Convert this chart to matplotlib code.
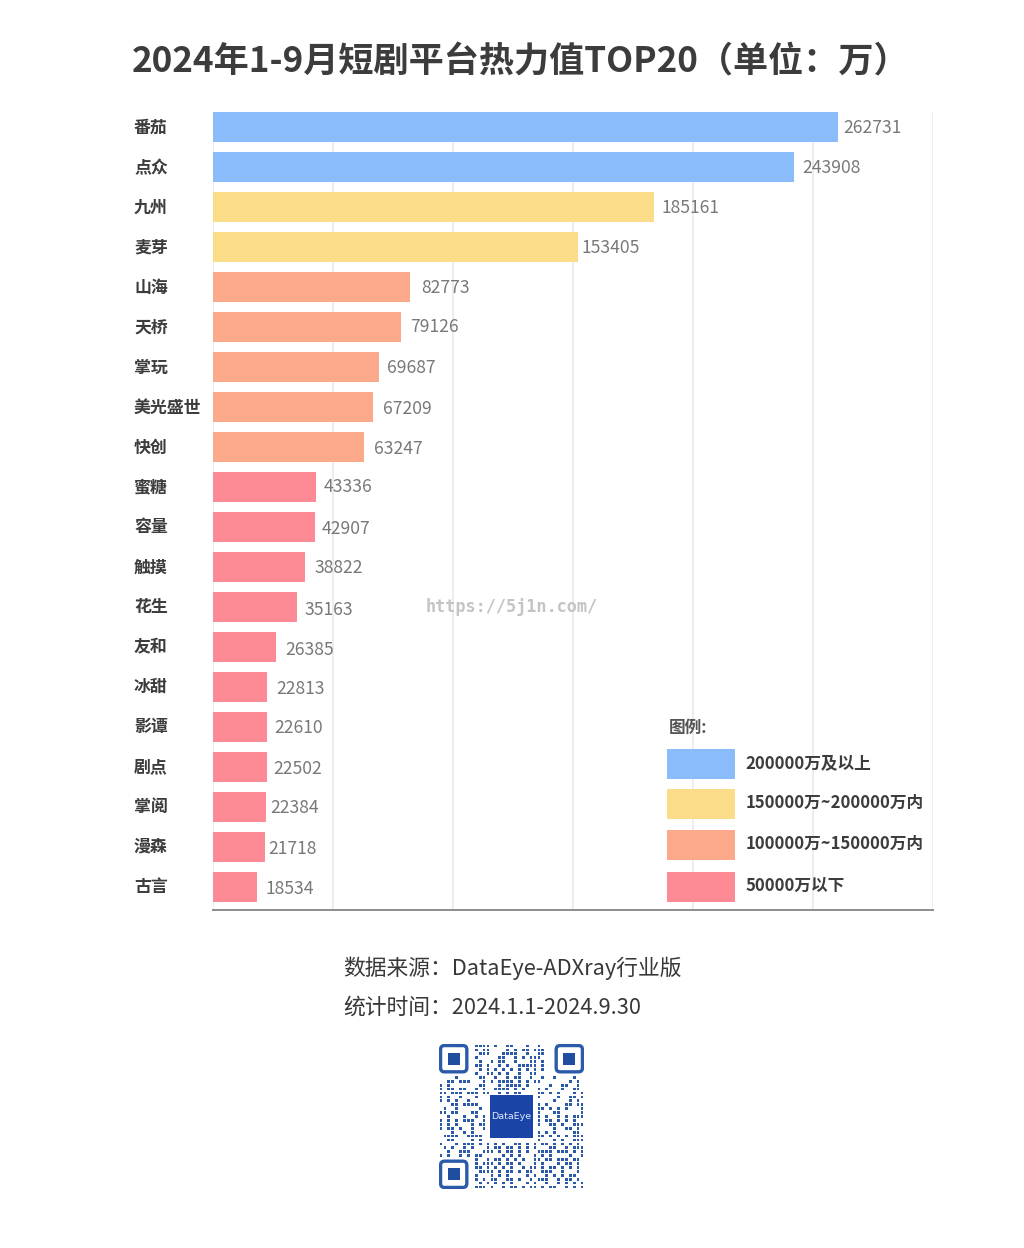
#!/usr/bin/env python3
# -*- coding: utf-8 -*-
"""2024年1-9月短剧平台热力值TOP20"""

import numpy as np
import matplotlib
matplotlib.use('Agg')
import matplotlib.pyplot as plt
from matplotlib.patches import Rectangle, FancyBboxPatch

plt.rcParams['font.family'] = ['Noto Sans CJK SC', 'DejaVu Sans']

platforms = ['番茄', '点众', '九州', '麦芽', '山海', '天桥', '掌玩', '美光盛世', '快创', '蜜糖',
             '容量', '触摸', '花生', '友和', '冰甜', '影谭', '剧点', '掌阅', '漫森', '古言']
heat_values = [262731, 243908, 185161, 153405, 82773, 79126, 69687, 67209, 63247, 43336,
               42907, 38822, 35163, 26385, 22813, 22610, 22502, 22384, 21718, 18534]
tiers = [0, 0, 1, 1, 2, 2, 2, 2, 2, 3, 3, 3, 3, 3, 3, 3, 3, 3, 3, 3]
tier_colors = ['#8abcfb', '#fbdc88', '#fca88a', '#fd8a94']
tier_labels = ['200000万及以上', '150000万~200000万内', '100000万~150000万内', '50000万以下']

title_text = '2024年1-9月短剧平台热力值TOP20（单位：万）'
legend_title = '图例:'
source_lines = ['数据来源：DataEye-ADXray行业版', '统计时间：2024.1.1-2024.9.30']
watermark = 'https://5j1n.com/'

# 数值标签相对柱端的偏移（像素）
label_dx = [5, 9, 8, 3, 11, 9, 8, 10, 10, 7, 6, 9, 8, 10, 9, 7, 7, 4, 4, 8]
label_dy = [1, 1, 1, 1, 1, 0, 1, 2, 2, 0, 2, 1, 3, 3, 2, 1, 2, 1, 2, 2]

# 二维码图案（肉眼估读）
qr_rows = [
    '.........1111.1..11...1..1...',
    '.........1.11....1.1.11.111..',
    '..........111...1111..1..11..',
    '.........1.....11..1.1.111...',
    '..........1..1.11..1...11.1..',
    '.........11.1..1.1..11111.1..',
    '..........1.1.1.1.1.1.1.1.1..',
    '.........1..11.1.1..1..11....',
    '....1.....11..1..1.11..1..1..1....1..',
    '..11.111...1.1.1111.1.1.11.......1.1.',
    '1.1.......11...1.1111.1.....1..11..1.',
    '1.11.11..1.1..1111.1.1...1.1...1..11.',
    '11.111.111.11..1.1.11....11.1.1...1.1',
    '1.1..1...1...............1....1..11.1',
    '1.1.1..1.....................1...1.1.1',
    '...11.1111...............1.1....11.11',
    '.1..1.....1..............11.1.1.1...1',
    '11.11...11...............1...11.....1',
    '..1...1..1.1.............1.1..1.1.111',
    '1.1.1.111..1.............1.11.1.1.1..',
    '1.1.1...1.11.............1..11.1..111',
    '1.11.1..1..1.................1..11.1.',
    '...1..1.1................1.1.1....11.',
    '.1111..1111..............11.1.1.1.111',
    '..11....1.1..............1...1.1..111',
    '1...1.111.1.1.1.1..11.1.1.11.1.1.1.1.',
    '.1.1..1.1...1.11.11.1.1.1...11..1.111',
    '..1..111...111.1.11.1.1..1111.111.1.1',
    '1.1..1.1.11.....1.1.1...1.1.1....1..1',
    '.........1..1.11.1.1.1..11.11.111.11.',
    '.........1.111.1.11.1...1.1...1.11.1.',
    '.........11.1.1.1.1..1.11.1.11.1.1.1.',
    '..........1111.1.11.1.11..111..1...1.',
    '.........1...1.1.1....1.1..1.1.1.11..',
    '.........1.1.11..11.1..1.111..1.11.1.',
    '..........1.1.1.1.1...1.1..1..1.1.1.1',
    '.........111.1..1.11.1.11.1.11..1.1.1',
]

TEXT_DARK = '#3c3c3c'
QR_BLUE = '#2a5aa8'


def draw_bars(fig):
    ax = fig.add_axes([213 / 1024, 1 - 910 / 1248, 720 / 1024, 798 / 1248])
    y = np.arange(len(platforms))
    colors = [tier_colors[t] for t in tiers]
    ax.barh(y, heat_values, height=0.75, color=colors, zorder=3)
    ax.set_xlim(0, 302500)
    ax.set_ylim(19.575, -0.375)
    ax.set_xticks(np.linspace(0, 302500, 7))
    ax.set_yticks([])
    ax.tick_params(axis='x', length=0, labelbottom=False)
    ax.grid(axis='x', color='#e8e8e8', linewidth=1.1, zorder=0)
    for side in ['top', 'left', 'right']:
        ax.spines[side].set_visible(False)
    ax.spines['bottom'].set_color('#8c8c8c')
    ax.spines['bottom'].set_linewidth(1.4)

    for i, value in enumerate(heat_values):
        ax.annotate(str(value), (value, i), xytext=(label_dx[i] * 0.72, -label_dy[i] * 0.72),
                    textcoords='offset points', va='center', ha='left',
                    fontsize=12.6, color='#787878', fontweight='medium', zorder=4)


def draw_overlay(fig):
    # 其余元素用像素坐标放置
    ov = fig.add_axes([0, 0, 1, 1])
    ov.set_xlim(0, 1024)
    ov.set_ylim(1248, 0)
    ov.axis('off')
    ov.patch.set_alpha(0)

    ov.text(132, 62, title_text, fontsize=25.3, fontweight='bold', color=TEXT_DARK,
            ha='left', va='center')

    for i, name in enumerate(platforms):
        ov.text(134, 128 + 39.93 * i, name, fontsize=12.2, fontweight='bold', color=TEXT_DARK,
                ha='left', va='center')

    ov.text(669, 728, legend_title, fontsize=12, fontweight='bold', color='#555555',
            ha='left', va='center')
    swatch_top = [749, 789, 830, 872]
    for top, color, label in zip(swatch_top, tier_colors, tier_labels):
        ov.add_patch(Rectangle((667, top), 68, 30, facecolor=color, edgecolor='none', zorder=5))
        ov.text(745.5, top + 14, label, fontsize=12.0, fontweight='bold', color=TEXT_DARK,
                ha='left', va='center', zorder=5)

    ov.text(426, 607, watermark, family='DejaVu Sans Mono', fontsize=12.2, fontweight='bold',
            color='#c4c4c4', ha='left', va='center', zorder=6)

    for line, yy in zip(source_lines, [968, 1008]):
        ov.text(343, yy, line, fontsize=15.7, color='#383838', ha='left', va='center')


def draw_qr(fig):
    ax = fig.add_axes([439 / 1024, 1 - 1189 / 1248, 145 / 1024, 145 / 1248])
    ax.set_xlim(0, 37)
    ax.set_ylim(37, 0)
    ax.axis('off')
    for r, row in enumerate(qr_rows):
        for c, ch in enumerate(row.ljust(37, '.')[:37]):
            if ch == '1':
                ax.add_patch(Rectangle((c + 0.15, r + 0.15), 0.7, 0.7, facecolor=QR_BLUE,
                                       edgecolor='none'))

    # 三个定位角
    for cx, cy in [(0, 0), (29.5, 0), (0, 29.5)]:
        ax.add_patch(FancyBboxPatch((cx + 0.4, cy + 0.4), 6.7, 6.7,
                                    boxstyle='round,pad=0,rounding_size=1',
                                    facecolor='white', edgecolor=QR_BLUE, linewidth=2.4))
        ax.add_patch(Rectangle((cx + 2.2, cy + 2.2), 3.1, 3.1, facecolor='#1f4ea1', edgecolor='none'))

    ax.add_patch(Rectangle((13, 13), 11, 11, facecolor='#1a44a8', edgecolor='none', zorder=5))
    ax.text(18.5, 18.5, 'DataEye', fontsize=6.8, color='#dfe8ff', ha='center', va='center', zorder=6,
            family='DejaVu Sans')


def main():
    fig = plt.figure(figsize=(10.24, 12.48), dpi=100, facecolor='white')
    draw_bars(fig)
    draw_overlay(fig)
    draw_qr(fig)
    fig.savefig('out.png', dpi=100, facecolor='white')


if __name__ == "__main__":
    main()
